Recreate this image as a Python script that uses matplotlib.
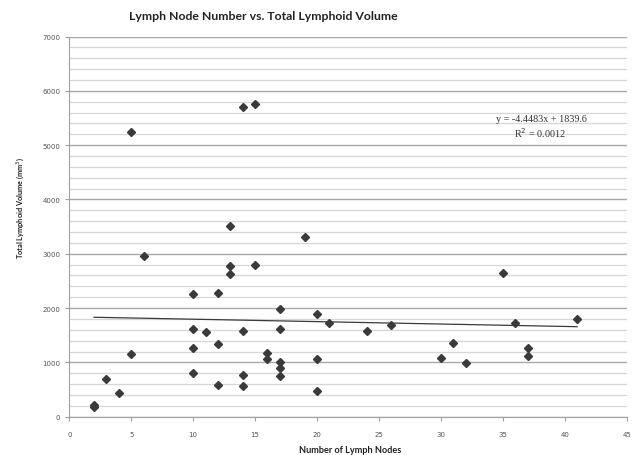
import numpy as np
import matplotlib
matplotlib.use('Agg')
import matplotlib.pyplot as plt
from matplotlib.ticker import MultipleLocator

# number of lymph nodes vs total lymphoid volume (mm^3)
nodes = [2, 2, 3, 4, 5, 5, 6,
         10, 10, 10, 10, 11, 12, 12, 12,
         13, 13, 13, 14, 14, 14, 14, 15, 15,
         16, 16, 17, 17, 17, 17, 17, 19,
         20, 20, 20, 21, 24, 26,
         30, 31, 32, 35, 36, 37, 37, 41]
volume = [180, 210, 700, 440, 1150, 5250, 2950,
          2250, 1610, 1270, 800, 1560, 2270, 1340, 590,
          3510, 2780, 2620, 5710, 1580, 770, 560, 5760, 2800,
          1170, 1060, 1980, 1620, 1010, 900, 750, 3300,
          1890, 1060, 470, 1720, 1580, 1690,
          1080, 1350, 980, 2640, 1730, 1260, 1110, 1790]

# linear trendline as printed on the chart
slope = -4.4483
intercept = 1839.6
r2 = 0.0012

W, H = 639, 456
fig = plt.figure(figsize=(W/100, H/100), dpi=100)
ax = fig.add_axes([69.3/W, 1 - 417.7/H, (626.7-69.3)/W, (417.7-37.5)/H])

ax.set_xlim(0, 45)
ax.set_ylim(0, 7000)
ax.xaxis.set_major_locator(MultipleLocator(5))
ax.yaxis.set_major_locator(MultipleLocator(1000))
ax.yaxis.set_minor_locator(MultipleLocator(200))

ax.grid(axis='y', which='minor', color='#d6d6d6', lw=0.9)
ax.grid(axis='y', which='major', color='#a8a8a8', lw=1.0)
ax.set_axisbelow(True)

for s in ['top', 'right']:
    ax.spines[s].set_visible(False)
ax.spines['left'].set_color('#a0a0a0')
ax.spines['bottom'].set_color('#a0a0a0')
ax.tick_params(axis='both', which='major', colors='#a0a0a0', length=3,
               labelsize=5, labelcolor='#555555')
ax.tick_params(axis='y', which='minor', length=0)
ax.tick_params(axis='x', pad=7)

xl = np.array([min(nodes), max(nodes)])
ax.plot(xl, slope*xl + intercept, color='#3a3a3a', lw=0.9, zorder=2)
ax.plot(nodes, volume, 'D', color='#3a3a3a', markersize=3.6, zorder=3)

fig.text(541/W, 1 - 120/H, 'y = %.4fx + %.1f' % (slope, intercept),
         fontsize=7.3, family='Liberation Serif', color='#333333',
         ha='center', va='center')
fig.text(540/W, 1 - 133/H, 'R$^2$ = %.4f' % r2,
         fontsize=7.3, family='Liberation Serif', color='#333333',
         ha='center', va='center')

fig.text(263/W, 1 - 17/H, 'Lymph Node Number vs. Total Lymphoid Volume',
         ha='center', va='center', fontsize=8.8, fontweight='bold',
         family='Lato', color='#222222')
fig.text(350/W, 1 - 451/H, 'Number of Lymph Nodes', ha='center',
         va='center', fontsize=6.6, fontweight='bold', family='Lato', color='#222222')
fig.text(20/W, 1 - 208/H, 'Total Lymphoid Volume (mm$^3$)', ha='center',
         va='center', rotation=90, fontsize=5.3, fontweight='bold',
         family='Lato', color='#222222')

plt.savefig('out.png', dpi=100)
